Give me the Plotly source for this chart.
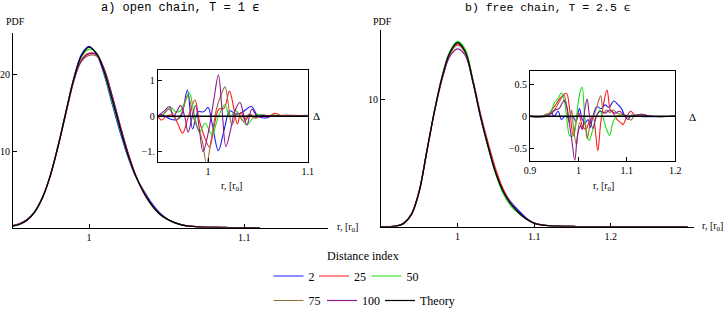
import plotly.graph_objects as go

W, H = 728, 315

# ---------------- data ----------------
series_names = ["2", "25", "50", "75", "100", "Theory"]
series_colors = ["#1a1aff", "#ff1a1a", "#1ae01a", "#9c6b3c", "#8a1a8a", "#000000"]

# panel a) main PDF
r_a = [0.950, 0.955, 0.960, 0.965, 0.970, 0.975, 0.980, 0.985, 0.990, 0.995,
       1.000, 1.005, 1.010, 1.015, 1.020, 1.025, 1.030, 1.035, 1.040, 1.045,
       1.050, 1.055, 1.060, 1.065, 1.070, 1.075, 1.080, 1.085, 1.090, 1.095,
       1.100, 1.105, 1.110]
pdf_a_2 = [0.18, 0.42, 0.98, 2.05, 3.92, 6.8, 10.7, 15.1, 19.4, 22.6, 23.7, 22.6, 19.8, 16.1, 12.5, 9.3, 6.7,
           4.9, 3.3, 2.05, 1.2, 0.68, 0.36, 0.18, 0.09, 0.05, 0.03, 0.02, 0.01, 0.01, 0.0, 0.0, 0.0]
pdf_a_25 = [0.2, 0.45, 1.0, 2.1, 3.9, 6.7, 10.5, 14.8, 19.0, 21.9, 22.8, 22.6, 20.4, 17.1, 13.4, 9.9, 6.9,
            4.6, 3.0, 1.85, 1.12, 0.66, 0.35, 0.18, 0.09, 0.05, 0.03, 0.02, 0.01, 0.01, 0.0, 0.0, 0.0]
pdf_a_50 = [0.17, 0.4, 0.95, 2.0, 3.85, 6.75, 10.6, 15.0, 19.3, 22.3, 23.3, 22.8, 20.0, 16.4, 12.8, 9.5, 6.8,
            4.8, 3.0, 1.8, 1.1, 0.62, 0.32, 0.17, 0.08, 0.04, 0.02, 0.01, 0.01, 0.0, 0.0, 0.0, 0.0]
pdf_a_75 = [0.22, 0.48, 1.02, 2.08, 3.95, 6.8, 10.6, 14.9, 19.2, 21.7, 22.5, 22.4, 20.6, 17.0, 13.2, 9.7, 6.8,
            4.7, 3.05, 1.9, 1.15, 0.66, 0.35, 0.18, 0.09, 0.05, 0.03, 0.02, 0.01, 0.01, 0.01, 0.0, 0.0]
pdf_a_100 = [0.24, 0.5, 1.05, 2.1, 3.95, 6.78, 10.6, 14.9, 19.1, 21.8, 22.7, 22.6, 20.6, 17.2, 13.4, 9.8, 6.85,
             4.7, 3.05, 1.9, 1.15, 0.66, 0.35, 0.18, 0.09, 0.05, 0.03, 0.02, 0.01, 0.01, 0.01, 0.0, 0.0]
pdf_a_theory = [0.16, 0.41, 0.96, 2.03, 3.89, 6.75, 10.6, 15.0, 19.3, 22.4, 23.6, 22.7, 20.2, 16.7, 13.0, 9.57,
                6.78, 4.71, 3.07, 1.88, 1.14, 0.64, 0.33, 0.17, 0.08, 0.04, 0.02, 0.01, 0.0, 0.0, 0.0, 0.0, 0.0]

# panel b) main PDF
r_b = [0.90, 0.91, 0.92, 0.93, 0.94, 0.95, 0.96, 0.97, 0.98, 0.99,
       1.00, 1.01, 1.02, 1.03, 1.04, 1.05, 1.06, 1.07, 1.08, 1.09,
       1.10, 1.11, 1.12, 1.13, 1.14, 1.15, 1.16, 1.17, 1.18, 1.19,
       1.20, 1.21, 1.22, 1.23, 1.24, 1.25, 1.26, 1.27, 1.28, 1.29, 1.30]
pdf_b_2 = [0, 0, 0.03, 0.26, 0.97, 2.76, 5.92, 9.1, 11.8, 13.7, 14.5, 13.8, 11.4, 8.6, 6.3, 4.3, 2.85, 1.9,
           1.25, 0.66, 0.28, 0.13, 0.06, 0.03, 0.02, 0.01, 0, 0, 0, 0, 0, 0, 0, 0, 0, 0, 0, 0, 0, 0, 0]
pdf_b_25 = [0, 0, 0.03, 0.24, 0.93, 2.7, 5.85, 9.05, 11.7, 13.6, 14.4, 13.8, 11.6, 8.9, 6.6, 4.5, 2.9, 1.8,
            1.08, 0.6, 0.27, 0.12, 0.06, 0.03, 0.02, 0.01, 0, 0, 0, 0, 0, 0, 0, 0, 0, 0, 0, 0, 0, 0, 0]
pdf_b_50 = [0, 0, 0.03, 0.25, 0.95, 2.75, 5.95, 9.15, 11.9, 13.8, 14.6, 14.0, 11.6, 8.7, 6.2, 4.1, 2.55, 1.6,
            1.02, 0.57, 0.25, 0.12, 0.06, 0.03, 0.02, 0.01, 0, 0, 0, 0, 0, 0, 0, 0, 0, 0, 0, 0, 0, 0, 0]
pdf_b_75 = [0, 0, 0.04, 0.27, 0.98, 2.8, 5.95, 9.1, 11.8, 13.6, 14.3, 13.7, 11.5, 8.75, 6.35, 4.25, 2.75, 1.78,
            1.1, 0.6, 0.27, 0.13, 0.06, 0.03, 0.02, 0.01, 0, 0, 0, 0, 0, 0, 0, 0, 0, 0, 0, 0, 0, 0, 0]
pdf_b_100 = [0, 0, 0.04, 0.28, 1.0, 2.8, 5.95, 9.05, 11.6, 13.4, 14.0, 13.5, 11.4, 8.75, 6.35, 4.25, 2.75, 1.78,
             1.1, 0.6, 0.27, 0.13, 0.07, 0.04, 0.02, 0.01, 0, 0, 0, 0, 0, 0, 0, 0, 0, 0, 0, 0, 0, 0, 0]
pdf_b_theory = [0, 0, 0.03, 0.25, 0.95, 2.74, 5.9, 9.1, 11.8, 13.7, 14.5, 13.8, 11.5, 8.7, 6.3, 4.2, 2.73, 1.76,
                1.09, 0.59, 0.26, 0.12, 0.06, 0.03, 0.02, 0.01, 0, 0, 0, 0, 0, 0, 0, 0, 0, 0, 0, 0, 0, 0, 0]

# panel a) inset: deviation from theory
da_2_r = [0.9495, 0.953, 0.957, 0.962, 0.968, 0.973, 0.9793, 0.9845, 0.990, 0.9955, 1.000, 1.004, 1.0104,
          1.016, 1.022, 1.028, 1.034, 1.0435, 1.050, 1.058, 1.065, 1.075, 1.085, 1.100]
da_2_v = [0, 0.05, 0.0, -0.08, -0.1, 0.0, 0.73, -0.36, 0.12, 0.12, 0.24, -0.2, -0.97,
          -0.4, 0.15, 0.05, 0.1, 0.27, 0.0, -0.05, 0.02, 0, 0.01, 0.02]
da_25_r = [0.9495, 0.9535, 0.958, 0.965, 0.9695, 0.9745, 0.9805, 0.987, 0.991, 0.996, 1.0015, 1.006, 1.011,
           1.016, 1.0215, 1.026, 1.0295, 1.033, 1.0375, 1.042, 1.048, 1.054, 1.060, 1.067, 1.075, 1.085, 1.100]
da_25_v = [0, -0.11, 0.0, 0.02, -0.2, -0.48, 0.0, 0.45, -0.1, -0.55, -0.87, -0.3, 0.2,
           0.22, 0.7, 0.2, -0.22, 0.1, -0.12, 0.05, -0.05, 0.03, -0.03, 0.08, 0.0, 0.02, 0]
da_50_r = [0.9495, 0.954, 0.9625, 0.968, 0.9725, 0.981, 0.9865, 0.9915, 0.997, 1.004, 1.0105, 1.017, 1.022,
           1.028, 1.033, 1.039, 1.045, 1.050, 1.058, 1.065, 1.080, 1.100]
da_50_v = [0, 0.02, 0.24, 0.12, 0.15, 0.66, 0.0, -0.45, -0.2, -0.52, 0.0, 0.32, -0.03,
           0.15, -0.05, -0.24, -0.05, 0.05, 0.0, 0.03, 0, 0]
da_75_r = [0.9495, 0.955, 0.9605, 0.964, 0.9685, 0.973, 0.980, 0.985, 0.989, 0.9935, 0.9985, 1.0035, 1.0085,
           1.0125, 1.017, 1.0205, 1.024, 1.0295, 1.0355, 1.041, 1.047, 1.055, 1.062, 1.080, 1.090, 1.100]
da_75_v = [0, 0.05, 0.2, 0.1, -0.1, 0.05, 0.57, 0.0, -0.3, -0.6, -1.32, -0.6, 0.2,
           0.55, 0.82, 0.3, -0.25, 0.1, -0.15, 0.05, -0.05, 0.03, 0.0, 0.03, 0, 0]
da_100_r = [0.9495, 0.955, 0.9615, 0.965, 0.969, 0.9725, 0.9765, 0.980, 0.9835, 0.9875, 0.991, 0.995, 1.000,
            1.0055, 1.0104, 1.014, 1.018, 1.0225, 1.027, 1.032, 1.036, 1.039, 1.044, 1.049, 1.055, 1.070, 1.100]
da_100_v = [0, 0.12, 0.27, -0.02, 0.15, 0.3, 0.0, -0.45, -0.1, 0.3, -0.3, -1.0, -0.5,
            0.4, 1.15, 0.2, -0.85, -0.4, 0.15, 0.38, 0.0, -0.25, 0.2, 0.0, 0.02, 0, 0]
da_theory_r = [0.9495, 1.100]
da_theory_v = [0, 0]

# panel b) inset
db_2_r = [0.90, 0.93, 0.944, 0.950, 0.958, 0.965, 0.972, 0.980, 0.988, 0.995, 1.002, 1.008, 1.014, 1.020,
          1.024, 1.030, 1.038, 1.047, 1.055, 1.063, 1.073, 1.082, 1.089, 1.096, 1.102, 1.110, 1.120, 1.200]
db_2_v = [0, 0, 0.05, 0.0, 0.08, -0.05, 0.0, -0.03, 0.0, -0.08, 0.12, -0.05, -0.1, -0.05,
          -0.18, 0.0, 0.15, 0.12, 0.18, 0.14, 0.24, 0.18, 0.12, 0.0, -0.05, 0.02, 0, 0]
db_25_r = [0.90, 0.93, 0.937, 0.945, 0.952, 0.962, 0.975, 0.982, 0.989, 0.995, 1.001, 1.008, 1.015, 1.022,
           1.030, 1.036, 1.040, 1.046, 1.052, 1.059, 1.066, 1.072, 1.080, 1.088, 1.092, 1.100, 1.108, 1.115,
           1.125, 1.135, 1.150, 1.200]
db_25_v = [0, 0, 0.02, 0.1, 0.17, 0.28, 0.36, 0.1, -0.3, -0.1, 0.05, -0.15, -0.2, -0.1,
           0.0, -0.3, -0.54, -0.1, 0.2, 0.41, 0.1, 0.05, -0.05, -0.1, -0.13, 0.0, 0.08, 0.03,
           0.0, 0.02, 0, 0]
db_50_r = [0.90, 0.935, 0.942, 0.951, 0.958, 0.965, 0.972, 0.977, 0.982, 0.990, 0.996, 1.0025, 1.0075, 1.013,
           1.018, 1.022, 1.030, 1.037, 1.044, 1.050, 1.058, 1.0645, 1.071, 1.078, 1.090, 1.100, 1.120, 1.140,
           1.200]
db_50_v = [0, 0, 0.05, 0.22, 0.28, 0.37, 0.2, -0.1, -0.3, -0.3, 0.0, 0.35, 0.46, 0.0,
           -0.3, -0.38, -0.2, 0.0, 0.1, 0.0, -0.2, -0.3, -0.1, 0.0, 0.02, 0.0, 0.02, 0,
           0]
db_75_r = [0.90, 0.925, 0.932, 0.940, 0.950, 0.960, 0.970, 0.976, 0.981, 0.986, 0.990, 0.996, 1.002, 1.008,
           1.013, 1.018, 1.025, 1.031, 1.038, 1.046, 1.052, 1.058, 1.065, 1.072, 1.080, 1.090, 1.100, 1.108,
           1.115, 1.130, 1.150, 1.200]
db_75_v = [0, 0, 0.03, 0.05, 0.1, 0.22, 0.33, 0.15, -0.1, 0.1, -0.2, -0.45, -0.1, -0.2,
           -0.1, -0.35, -0.1, 0.0, 0.15, 0.32, 0.05, 0.1, 0.06, 0.1, 0.05, 0.03, 0.0, -0.06,
           0.0, 0.03, 0.0, 0]
db_100_r = [0.90, 0.935, 0.945, 0.952, 0.960, 0.966, 0.971, 0.976, 0.981, 0.986, 0.9925, 0.998, 1.004, 1.008,
            1.013, 1.018, 1.023, 1.030, 1.037, 1.045, 1.055, 1.065, 1.075, 1.085, 1.095, 1.110, 1.130, 1.150,
            1.200]
db_100_v = [0, 0, 0.05, 0.1, 0.12, 0.2, 0.25, 0.15, -0.1, -0.35, -0.69, -0.3, -0.15, -0.2,
            0.1, 0.27, 0.0, -0.19, 0.0, 0.08, 0.05, 0.1, 0.05, 0.08, 0.02, 0.0, 0.03, 0,
            0]
db_theory_r = [0.90, 1.20]
db_theory_v = [0, 0]

# tick labels
main_a_xticks = [1.0, 1.1]
main_a_xtext = ["1", "1.1"]
main_a_yticks = [10, 20]
main_b_xticks = [1.0, 1.1, 1.2]
main_b_xtext = ["1", "1.1", "1.2"]
main_b_yticks = [10]
ins_a_xticks = [1.0, 1.1]
ins_a_xtext = ["1", "1.1"]
ins_a_yticks = [-1, 0, 1]
ins_a_ytext = ["\u22121.", "0", "1"]
ins_b_xticks = [0.9, 1.0, 1.1, 1.2]
ins_b_xtext = ["0.9", "1", "1.1", "1.2"]
ins_b_yticks = [-0.5, 0, 0.5]
ins_b_ytext = ["\u22120.5", "0", "0.5"]

title_a = "a) open chain, T = 1 \u03f5"
title_b = "b) free chain, T = 2.5 \u03f5"
legend_title = "Distance index"

# ---------------- figure ----------------
SERIF = "Liberation Serif"
MONO = "Liberation Mono"

main_a = [pdf_a_2, pdf_a_25, pdf_a_50, pdf_a_75, pdf_a_100, pdf_a_theory]
main_b = [pdf_b_2, pdf_b_25, pdf_b_50, pdf_b_75, pdf_b_100, pdf_b_theory]
ins_a = [(da_2_r, da_2_v), (da_25_r, da_25_v), (da_50_r, da_50_v), (da_75_r, da_75_v),
         (da_100_r, da_100_v), (da_theory_r, da_theory_v)]
ins_b = [(db_2_r, db_2_v), (db_25_r, db_25_v), (db_50_r, db_50_v), (db_75_r, db_75_v),
         (db_100_r, db_100_v), (db_theory_r, db_theory_v)]

legend_ids = ["legend", "legend2", "legend3", "legend4", "legend5", "legend6"]

fig = go.Figure()
for i, name in enumerate(series_names):
    fig.add_trace(go.Scatter(x=r_a, y=main_a[i], mode="lines", name=name, legend=legend_ids[i],
                             line=dict(color=series_colors[i], width=1.2, shape="spline"),
                             xaxis="x", yaxis="y", showlegend=True))
for i, name in enumerate(series_names):
    fig.add_trace(go.Scatter(x=r_b, y=main_b[i], mode="lines", name=name,
                             line=dict(color=series_colors[i], width=1.2, shape="spline"),
                             xaxis="x3", yaxis="y3", showlegend=False))
for i, name in enumerate(series_names):
    fig.add_trace(go.Scatter(x=ins_a[i][0], y=ins_a[i][1], mode="lines", name=name,
                             line=dict(color=series_colors[i], width=1.5 if i == 5 else 1.1,
                                       shape="spline"),
                             xaxis="x2", yaxis="y2", showlegend=False))
for i, name in enumerate(series_names):
    fig.add_trace(go.Scatter(x=ins_b[i][0], y=ins_b[i][1], mode="lines", name=name,
                             line=dict(color=series_colors[i], width=1.5 if i == 5 else 1.1,
                                       shape="spline"),
                             xaxis="x4", yaxis="y4", showlegend=False))


def px_x(p):
    return p / W


def px_y(p):
    return 1 - p / H


tickfont = dict(family=SERIF, size=10, color="black")
common = dict(showgrid=False, zeroline=False, showline=True, linecolor="black", linewidth=1,
              ticks="inside", ticklen=4, tickcolor="black", tickfont=tickfont, automargin=False)

# legend entry positions (left edge of each one-entry legend, px) and row centres
legend_x = [268.5, 314, 366.5, 268.5, 322, 380]
legend_y = [276, 276, 276, 301, 301, 301]

layout_legends = {}
for i, lid in enumerate(legend_ids):
    layout_legends[lid] = dict(orientation="h", x=px_x(legend_x[i]), y=px_y(legend_y[i]),
                               xanchor="left", yanchor="middle",
                               font=dict(family=SERIF, size=12, color="black"),
                               bgcolor="rgba(0,0,0,0)", itemwidth=30)

fig.update_layout(
    width=W, height=H, autosize=False,
    margin=dict(l=0, r=0, t=0, b=0),
    paper_bgcolor="white", plot_bgcolor="rgba(0,0,0,0)",
    font=dict(family=SERIF, size=11, color="black"),
    xaxis=dict(domain=[px_x(13), px_x(328)], range=[0.951, 1.154], anchor="y",
               tickvals=main_a_xticks, ticktext=main_a_xtext, **common),
    yaxis=dict(domain=[px_y(228.3), px_y(33)], range=[0, 25.45], anchor="x",
               tickvals=main_a_yticks, **common),
    xaxis2=dict(domain=[px_x(157.7), px_x(307.7)], range=[0.9495, 1.1], anchor="y2", mirror=True,
                tickvals=ins_a_xticks, ticktext=ins_a_xtext, **common),
    yaxis2=dict(domain=[px_y(162.3), px_y(70.7)], range=[-1.28, 1.28], anchor="x2", mirror=True,
                tickvals=ins_a_yticks, ticktext=ins_a_ytext, **common),
    xaxis3=dict(domain=[px_x(381), px_x(694)], range=[0.9003, 1.3084], anchor="y3",
                tickvals=main_b_xticks, ticktext=main_b_xtext, **common),
    yaxis3=dict(domain=[px_y(227.3), px_y(30)], range=[0, 15.5], anchor="x3",
                tickvals=main_b_yticks, **common),
    xaxis4=dict(domain=[px_x(530), px_x(675.3)], range=[0.9, 1.2], anchor="y4", mirror=True,
                tickvals=ins_b_xticks, ticktext=ins_b_xtext, **common),
    yaxis4=dict(domain=[px_y(161.3), px_y(71)], range=[-0.697, 0.714], anchor="x4", mirror=True,
                tickvals=ins_b_yticks, ticktext=ins_b_ytext, **common),
    **layout_legends,
)

ann = []


def add_text(text, x, y, size=11, family=SERIF, xanchor="center"):
    ann.append(dict(text=text, x=px_x(x), y=px_y(y), xref="paper", yref="paper", showarrow=False,
                    xanchor=xanchor, yanchor="middle", font=dict(family=family, size=size, color="black")))


add_text(title_a, 180, 8, size=12, family=MONO)
add_text(title_b, 548, 8, size=11.5, family=MONO)
add_text("PDF", 4, 22, size=10, xanchor="left")
add_text("PDF", 371, 22, size=10, xanchor="left")
add_text("r, [r<sub>0</sub>]", 335, 228, size=10, xanchor="left")
add_text("r, [r<sub>0</sub>]", 700, 227, size=10, xanchor="left")
add_text("r, [r<sub>0</sub>]", 232, 187, size=10)
add_text("r, [r<sub>0</sub>]", 603, 187, size=10)
add_text("\u0394", 316, 116, size=11, xanchor="center")
add_text("\u0394", 692, 117, size=11, xanchor="center")
add_text(legend_title, 363, 257, size=12)
fig.update_layout(annotations=ann)

fig.write_html("out.html",
               config={"displayModeBar": False, "staticPlot": True},
               post_script="document.body.style.margin='0';document.body.style.padding='0';"
                           "document.body.style.overflow='hidden';")
